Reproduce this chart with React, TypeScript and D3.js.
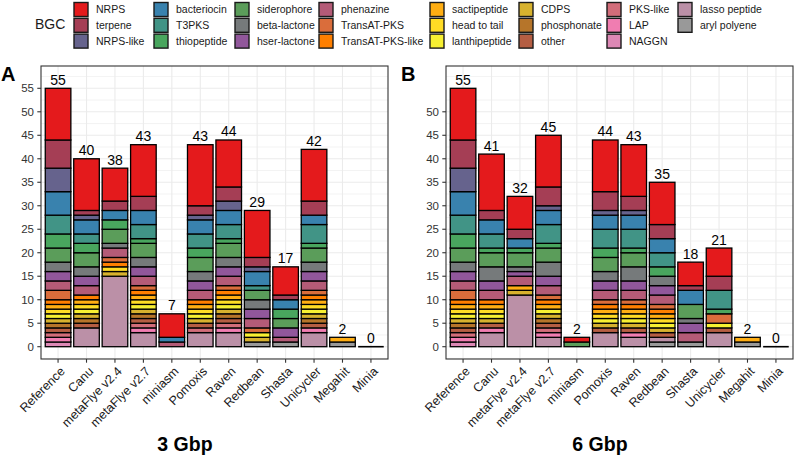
import React from "react";
import * as d3 from "d3";

const bgcTypes = [
  "NRPS", "terpene", "NRPS-like", "bacteriocin", "T3PKS", "thiopeptide",
  "siderophore", "beta-lactone", "hser-lactone", "phenazine", "TransAT-PKS",
  "TransAT-PKS-like", "sactipeptide", "head to tail", "lanthipeptide", "CDPS",
  "phosphonate", "other", "PKS-like", "LAP", "NAGGN", "lasso peptide", "aryl polyene",
];

const assemblers = [
  "Reference", "Canu", "metaFlye v2.4", "metaFlye v2.7", "miniasm", "Pomoxis",
  "Raven", "Redbean", "Shasta", "Unicycler", "Megahit", "Minia",
];

// counts per assembler, in bgcTypes order
const counts3Gbp: number[][] = [
  [11, 6, 5, 5, 4, 3, 3, 2, 2, 2, 2, 1, 1, 1, 1, 1, 1, 1, 1, 1, 1, 0, 0],
  [11, 1, 1, 3, 2, 2, 3, 2, 2, 2, 0, 1, 1, 1, 1, 1, 1, 1, 0, 0, 0, 4, 0],
  [7, 2, 0, 2, 0, 2, 3, 1, 0, 2, 1, 1, 0, 1, 0, 1, 0, 0, 0, 0, 0, 15, 0],
  [11, 3, 0, 3, 3, 1, 3, 2, 2, 2, 1, 1, 1, 1, 1, 1, 1, 1, 1, 1, 0, 3, 0],
  [5, 0, 0, 1, 0, 0, 0, 0, 0, 1, 0, 0, 0, 0, 0, 0, 0, 0, 0, 0, 0, 0, 0],
  [13, 2, 1, 3, 3, 2, 3, 2, 2, 2, 0, 1, 1, 1, 1, 1, 0, 1, 1, 0, 0, 3, 0],
  [10, 3, 2, 3, 3, 1, 3, 2, 2, 2, 1, 1, 1, 1, 1, 1, 1, 1, 1, 1, 0, 3, 0],
  [10, 2, 1, 3, 1, 0, 2, 2, 2, 2, 1, 0, 0, 0, 1, 1, 0, 0, 0, 0, 0, 0, 1],
  [6, 1, 0, 2, 0, 2, 2, 0, 2, 1, 0, 0, 0, 0, 0, 0, 0, 0, 0, 0, 0, 0, 1],
  [11, 3, 0, 2, 4, 1, 3, 2, 2, 2, 1, 1, 1, 1, 1, 1, 1, 1, 0, 1, 0, 3, 0],
  [0, 0, 0, 0, 0, 0, 0, 0, 0, 0, 0, 0, 1, 0, 0, 0, 0, 0, 0, 0, 0, 0, 1],
  [0, 0, 0, 0, 0, 0, 0, 0, 0, 0, 0, 0, 0, 0, 0, 0, 0, 0, 0, 0, 0, 0, 0],
];

const counts6Gbp: number[][] = [
  [11, 6, 5, 5, 4, 3, 3, 2, 2, 2, 2, 1, 1, 1, 1, 1, 1, 1, 1, 1, 1, 0, 0],
  [12, 2, 0, 3, 3, 1, 3, 3, 2, 2, 0, 1, 1, 1, 1, 1, 0, 1, 0, 1, 0, 3, 0],
  [7, 2, 0, 2, 0, 1, 3, 1, 1, 2, 0, 0, 1, 0, 0, 1, 0, 0, 0, 0, 0, 11, 0],
  [11, 4, 1, 3, 4, 1, 3, 3, 2, 2, 1, 1, 1, 0, 1, 1, 1, 1, 1, 1, 0, 2, 0],
  [1, 0, 0, 0, 0, 0, 1, 0, 0, 0, 0, 0, 0, 0, 0, 0, 0, 0, 0, 0, 0, 0, 0],
  [11, 4, 1, 3, 4, 2, 3, 2, 2, 2, 1, 1, 1, 1, 1, 1, 0, 1, 0, 0, 0, 3, 0],
  [11, 3, 1, 3, 4, 1, 3, 3, 2, 2, 1, 1, 1, 1, 1, 1, 0, 1, 0, 1, 0, 2, 0],
  [9, 3, 0, 3, 3, 2, 0, 2, 2, 2, 1, 1, 1, 1, 1, 1, 0, 1, 0, 0, 0, 1, 1],
  [5, 1, 0, 3, 0, 0, 3, 1, 2, 2, 0, 0, 0, 0, 0, 0, 0, 0, 0, 0, 0, 0, 1],
  [6, 3, 0, 0, 4, 1, 0, 0, 0, 0, 2, 0, 0, 0, 1, 0, 0, 1, 0, 0, 0, 3, 0],
  [0, 0, 0, 0, 0, 0, 0, 0, 0, 0, 0, 0, 1, 0, 0, 0, 0, 0, 0, 0, 0, 0, 1],
  [0, 0, 0, 0, 0, 0, 0, 0, 0, 0, 0, 0, 0, 0, 0, 0, 0, 0, 0, 0, 0, 0, 0],
];

const yTicks3 = [0, 5, 10, 15, 20, 25, 30, 35, 40, 45, 50, 55];
const yTicks6 = [0, 5, 10, 15, 20, 25, 30, 35, 40, 45, 50];

const FONT = "'Liberation Sans', Arial, Helvetica, sans-serif";
const palette = d3.quantize(d3.piecewise(d3.interpolateRgb, d3.schemeSet1 as string[]), bgcTypes.length);
const color = d3.scaleOrdinal<string, string>().domain(bgcTypes).range(palette);

const legendCols = [74, 154, 235, 319, 430, 519, 607, 678];
const legendRows = [2.5, 18.3, 34.1];

function Legend() {
  return (
    <g>
      <text x={35} y={29} fontSize={14} fontFamily={FONT} fill="#1a1a1a">BGC</text>
      {bgcTypes.map((t, i) => {
        const cx = legendCols[Math.floor(i / 3)];
        const cy = legendRows[i % 3];
        return (
          <g key={t}>
            <rect x={cx} y={cy} width={14} height={14} fill={color(t)} stroke="#1a1a1a" strokeWidth={1.4} />
            <text x={cx + 22} y={cy + 7} dy="0.35em" fontSize={10.5} fontFamily={FONT} fill="#1a1a1a">{t}</text>
          </g>
        );
      })}
    </g>
  );
}

type PanelProps = {
  counts: number[][];
  x0: number;
  x1: number;
  yTicks: number[];
  label: string;
  labelX: number;
  title: string;
  titleX: number;
};

function Panel({ counts, x0, x1, yTicks, label, labelX, title, titleX }: PanelProps) {
  const top = 66;
  const bottom = 359;
  const x = d3.scaleBand<string>().domain(assemblers).range([x0, x1]).paddingInner(0.1).paddingOuter(0.15);
  const y = d3.scaleLinear().domain([0, 55]).range([346.7, 88.3]);
  const rows = assemblers.map((a, i) => {
    const o: Record<string, any> = { assembler: a };
    bgcTypes.forEach((t, j) => (o[t] = counts[i][j]));
    return o;
  });
  const series = d3.stack<Record<string, any>>().keys([...bgcTypes].reverse())(rows);
  const totals = counts.map((c) => d3.sum(c));
  const minor = d3.range(-2.5, 60, 5).filter((v) => y(v) > top && y(v) < bottom);
  const bw = x.bandwidth();

  return (
    <g>
      <rect x={x0} y={top} width={x1 - x0} height={bottom - top} fill="#fff" />
      {minor.map((v) => (
        <line key={"mn" + v} x1={x0} x2={x1} y1={y(v)} y2={y(v)} stroke="#EBEBEB" strokeWidth={0.6} />
      ))}
      {yTicks.map((v) => (
        <line key={"mj" + v} x1={x0} x2={x1} y1={y(v)} y2={y(v)} stroke="#EBEBEB" strokeWidth={1.1} />
      ))}
      {assemblers.map((a) => (
        <line key={"vx" + a} x1={x(a)! + bw / 2} x2={x(a)! + bw / 2} y1={top} y2={bottom} stroke="#EBEBEB" strokeWidth={1.1} />
      ))}
      {series.map((s) => (
        <g key={s.key} fill={color(s.key)}>
          {s.map((d, i) =>
            d[1] - d[0] > 0 ? (
              <rect
                key={i}
                x={x(assemblers[i])}
                y={y(d[1])}
                width={bw}
                height={y(d[0]) - y(d[1])}
                stroke="#000"
                strokeWidth={1.3}
              />
            ) : null
          )}
        </g>
      ))}
      {assemblers.map((a, i) =>
        totals[i] === 0 ? (
          <line key={"z" + a} x1={x(a)!} x2={x(a)! + bw} y1={y(0)} y2={y(0)} stroke="#000" strokeWidth={1.6} />
        ) : null
      )}
      {assemblers.map((a, i) => (
        <text
          key={"t" + a}
          x={x(a)! + bw / 2}
          y={y(totals[i]) - 3.5}
          textAnchor="middle"
          fontSize={14}
          fontFamily={FONT}
          fill="#000"
        >
          {totals[i]}
        </text>
      ))}
      <rect x={x0} y={top} width={x1 - x0} height={bottom - top} fill="none" stroke="#333" strokeWidth={1.1} />
      {yTicks.map((v) => (
        <g key={"yt" + v}>
          <line x1={x0 - 3.7} x2={x0} y1={y(v)} y2={y(v)} stroke="#333" strokeWidth={1.1} />
          <text x={x0 - 7} y={y(v)} dy="0.35em" textAnchor="end" fontSize={11.5} fontFamily={FONT} fill="#333">
            {v}
          </text>
        </g>
      ))}
      {assemblers.map((a) => {
        const cx = x(a)! + bw / 2;
        return (
          <g key={"xt" + a}>
            <line x1={cx} x2={cx} y1={bottom} y2={bottom + 3.7} stroke="#333" strokeWidth={1.1} />
            <text
              transform={`translate(${cx + 1},${bottom + 6.5}) rotate(-45)`}
              dy="0.75em"
              textAnchor="end"
              fontSize={12.5}
              fontFamily={FONT}
              fill="#1a1a1a"
            >
              {a}
            </text>
          </g>
        );
      })}
      <text x={labelX} y={81} fontSize={20} fontWeight="bold" fontFamily={FONT} fill="#000">{label}</text>
      <text x={titleX} y={451} textAnchor="middle" fontSize={19.5} fontWeight="bold" fontFamily={FONT} fill="#000">
        {title}
      </text>
    </g>
  );
}

export default function App() {
  return (
    <svg
      width={794}
      height={459}
      viewBox="0 0 794 459"
      style={{ position: "absolute", left: 0, top: 0, background: "#fff" }}
    >
      <rect x={0} y={0} width={794} height={459} fill="#fff" />
      <Legend />
      <Panel counts={counts3Gbp} x0={41} x1={388} yTicks={yTicks3} label="A" labelX={1} title="3 Gbp" titleX={185} />
      <Panel counts={counts6Gbp} x0={446} x1={793} yTicks={yTicks6} label="B" labelX={401} title="6 Gbp" titleX={600} />
    </svg>
  );
}
